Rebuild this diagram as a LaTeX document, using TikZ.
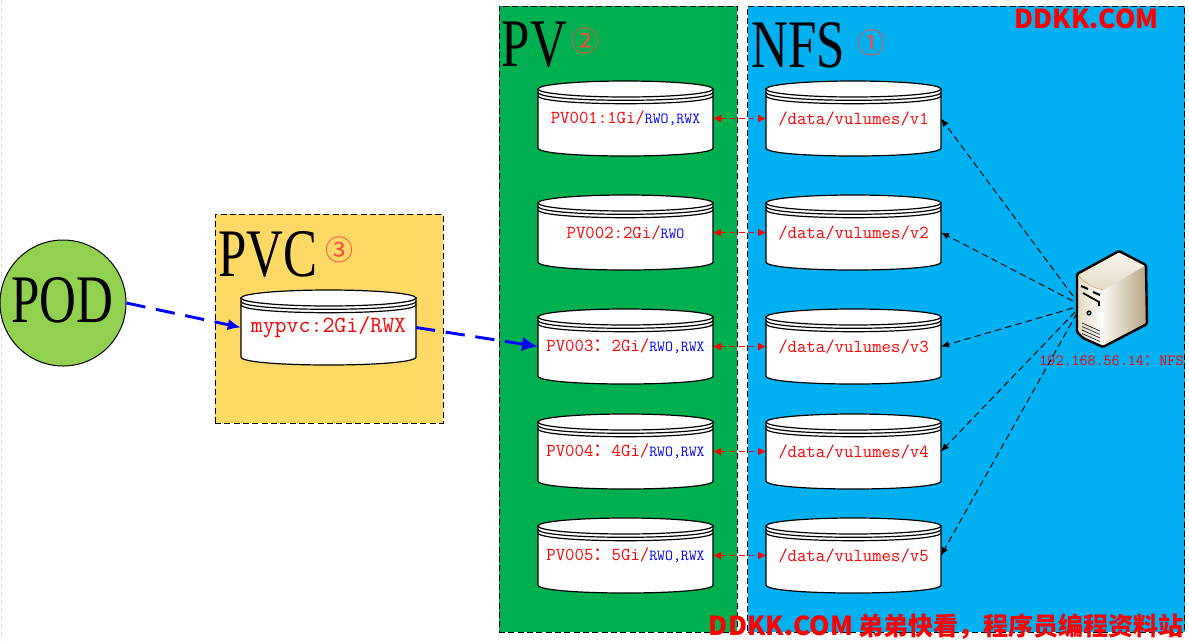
\documentclass[tikz,border=0pt]{standalone}
\usepackage{fontspec}
\setmainfont{Liberation Serif}
\newfontfamily\bigserif[FakeStretch=0.75]{Liberation Serif}
\newfontfamily\cjk{Noto Sans CJK SC}
\usetikzlibrary{arrows.meta}
\definecolor{pvgreen}{HTML}{00B050}
\definecolor{nfsblue}{HTML}{00B0F0}
\definecolor{pvcyellow}{HTML}{FFD966}
\definecolor{podgreen}{HTML}{92D050}
\definecolor{numred}{HTML}{FF4B3A}
\newcommand{\fwc}[1]{{\cjk\fontsize{#1}{#1}\selectfont ：}}
\newcommand{\lab}{\ttfamily\fontsize{13.7}{16}\selectfont\color{red}}
\newcommand{\smallb}[1]{{\fontsize{11.5}{14}\selectfont\color{blue}#1}}
\newcommand{\latinmark}{\fontsize{19.6}{19.6}\selectfont}
\newcommand{\disk}[4]{%
  \begin{scope}[shift={(#2,#3)}]
    \path[diskline,fill=white] (0,8) -- (0,67) .. controls (0,77.67) and (175,77.67) .. (175,67) -- (175,8) -- cycle;
    \path[diskline,fill=white] (87.5,8) ellipse [x radius=87.5,y radius=8];
    \path[diskline] (0,11.3) .. controls (0,21.97) and (175,21.97) .. (175,11.3);
    \path[diskline] (0,14.7) .. controls (0,25.37) and (175,25.37) .. (175,14.7);
    \node[disknode] (#1) at (87.5,37.5) {#4};
  \end{scope}}
\tikzset{
  diskline/.style={draw=black,line width=0.9pt},
  disknode/.style={rectangle,inner sep=0pt,outer sep=0pt,minimum width=131.25pt,minimum height=56.25pt,align=center},
  zone/.style={draw=black,dashed,line width=0.75pt,dash pattern=on 4.5pt off 2.5pt},
  bigtext/.style={inner sep=0pt,font=\bigserif\fontsize{51}{51}\selectfont},
  numtext/.style={inner sep=0pt,text=numred,font=\cjk\fontsize{21}{21}\selectfont},
  redlink/.style={draw=red,dashed,line width=0.75pt,dash pattern=on 4pt off 3pt,{Latex[length=6pt,width=6pt]}-{Latex[length=6pt,width=6pt]}},
  bluelink/.style={draw=blue,line width=2.2pt,dash pattern=on 14.5pt off 8pt},
  bluetipa/.style={-{Latex[length=10pt,width=8.5pt]}},
  bluetipb/.style={-{Latex[length=12pt,width=11pt]}},
  srvlink/.style={draw=black,line width=0.7pt,dash pattern=on 5pt off 3pt,-{Latex[length=6pt,width=5pt]}},
  wmark/.style={inner sep=0pt,text=red,font=\cjk\bfseries\fontsize{18.75}{18.75}\selectfont}
}
\begin{document}
\begin{tikzpicture}[x=0.75pt,y=-0.75pt]
\useasboundingbox (0,0) rectangle (1189,640);
\fill[white] (0,0) rectangle (1189,640);
\coordinate (edgeA) at (1,0);
\coordinate (edgeB) at (1,640);
\draw[draw=black!15,dashed,line width=0.75pt] (edgeA) -- (edgeB);
% zones
\node[zone,fill=pvgreen,rectangle,inner sep=0pt,minimum width=178.5pt,minimum height=469.5pt] (pvzone) at (618,319) {};
\node[zone,fill=nfsblue,rectangle,inner sep=0pt,minimum width=327.75pt,minimum height=469.5pt] (nfszone) at (966,319) {};
\node[zone,fill=pvcyellow,rectangle,inner sep=0pt,minimum width=171pt,minimum height=156.75pt] (pvczone) at (329,318.5) {};
% titles
\node[bigtext] (pvtitle) at (534.5,45) {PV};
\node[bigtext] (nfstitle) at (798.5,45) {NFS};
\node[bigtext] (pvctitle) at (268,254) {PVC};
\node[numtext] (n2) at (585,41) {②};
\node[numtext] (n1) at (871,43) {①};
\node[numtext] (n3) at (339,250) {③};
% pod
\node[draw=black,fill=podgreen,circle,inner sep=0pt,minimum size=94.5pt,line width=0.75pt] (pod) at (63,303) {};
\node[bigtext] (podtitle) at (62.5,300) {POD};
% disks
\disk{pvc}{241}{290}{\ttfamily\fontsize{17.4}{20}\selectfont\color{red}mypvc:2Gi/RWX}
\disk{pv1}{538}{81}{\lab PV001:1Gi/\smallb{RWO,RWX}}
\disk{pv2}{538}{195}{\lab PV002:2Gi/\smallb{RWO}}
\disk{pv3}{538}{309}{\lab PV003\fwc{13.7}2Gi/\smallb{RWO,RWX}}
\disk{pv4}{538}{414}{\lab PV004\fwc{13.7}4Gi/\smallb{RWO,RWX}}
\disk{pv5}{538}{518}{\lab PV005\fwc{13.7}5Gi/\smallb{RWO,RWX}}
\disk{nfs1}{766}{81}{\lab /data/vulumes/v1}
\disk{nfs2}{766}{195}{\lab /data/vulumes/v2}
\disk{nfs3}{766}{309}{\lab /data/vulumes/v3}
\disk{nfs4}{766}{414}{\lab /data/vulumes/v4}
\disk{nfs5}{766}{518}{\lab /data/vulumes/v5}
% server
\definecolor{srvlight}{HTML}{FBF8F1}
\definecolor{srvmid}{HTML}{E3D9C3}
\definecolor{srvdark}{HTML}{B5A483}
\definecolor{srvtan}{HTML}{C9A67E}
\fill[srvlight] (1077,274) -- (1119,251) -- (1146,265) -- (1147,324) -- (1103,347) -- (1083,338) -- (1077,332) -- cycle;
\shade[left color=srvlight,right color=srvdark] (1103,290) -- (1146,265) -- (1147,324) -- (1103,347) -- cycle;
\shade[bottom color=srvmid,top color=srvlight] (1077,274) -- (1119,251) -- (1146,265) -- (1103,290) -- (1086,283) -- cycle;
\shade[left color=srvmid,right color=white] (1078,275) .. controls (1086,285) and (1095,288) .. (1103,290) -- (1103,347) -- (1078,333) -- cycle;
\draw[line width=0.5pt,draw=srvtan] (1078,275) .. controls (1086,285) and (1095,288) .. (1103,290);
\draw[line width=1.8pt,line join=round,rounded corners=1pt] (1077,274) -- (1119,251) -- (1146,265) -- (1147,324) -- (1103,347) -- (1083,338) -- (1077,332) -- cycle;
\draw[line width=1.5pt] (1081,286) -- (1088,289) (1093,292) -- (1100,295);
\draw[line width=1.3pt] (1083,293) -- (1099,302) -- (1099,306);
\fill[black] (1089,313) circle [radius=2.6];
\fill[teal!60!white] (1089,313) circle [radius=1.5];
\foreach \yy in {0,3.5,7,10.5}{\draw[line width=0.6pt,draw=black!80] (1082,323+\yy) -- (1100,331+\yy);}
\node[rectangle,inner sep=0pt,minimum width=52.5pt,minimum height=72pt] (server) at (1112,299) {};
\node[inner sep=0pt,text=red,font=\ttfamily\fontsize{11.7}{14}\selectfont] (srvlabel) at (1111.5,361) {192.168.56.14\fwc{11.7}NFS};
\coordinate (srvA) at (1073,296);
\coordinate (srvB) at (1073,301);
\coordinate (srvC) at (1073,308);
\coordinate (srvD) at (1075,312);
\coordinate (srvE) at (1077,313);
% connectors
\draw[redlink] (pv1.east) -- (nfs1.west);
\draw[redlink] (pv2.east) -- (nfs2.west);
\draw[redlink] (pv3.east) -- (nfs3.west);
\draw[redlink] (pv4.east) -- (nfs4.west);
\draw[redlink] (pv5.east) -- (nfs5.west);
\draw[srvlink] (srvA) -- (nfs1.east);
\draw[srvlink] (srvB) -- (nfs2.east);
\draw[srvlink] (srvC) -- (nfs3.east);
\draw[srvlink] (srvD) -- (nfs4.east);
\draw[srvlink] (srvE) -- (nfs5.east);
\draw[bluelink,bluetipa] (pod.east) -- (pvc.west);
\draw[bluelink,bluetipb] (pvc.east) -- (pv3.west);
% watermarks
\node[wmark,anchor=east] (mark1) at (1159,19) {\latinmark DDKK.COM};
\node[wmark,anchor=east] (mark2) at (1184,627) {{\latinmark DDKK.COM} 弟弟快看，程序员编程资料站};
\end{tikzpicture}
\end{document}
